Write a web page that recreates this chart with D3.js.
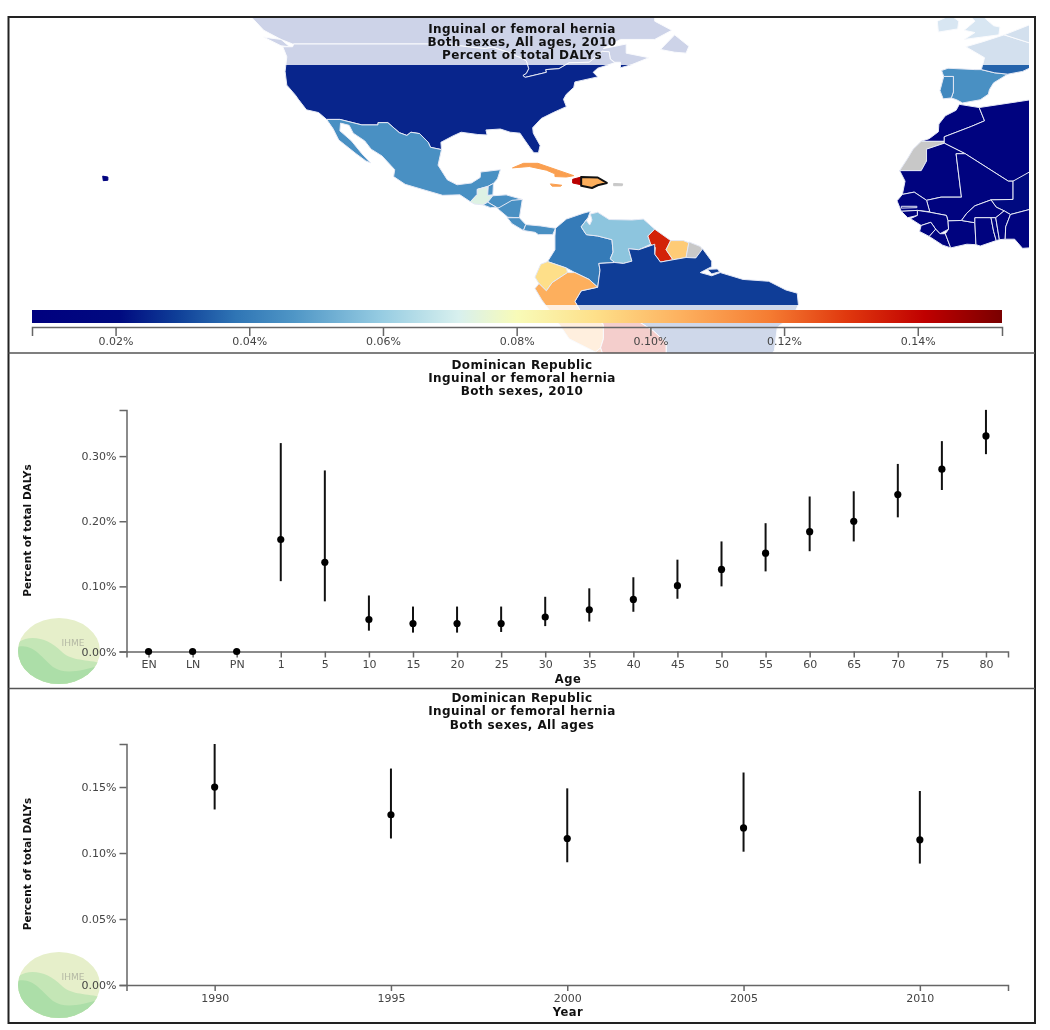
<!DOCTYPE html>
<html>
<head>
<meta charset="utf-8">
<script src="https://d3js.org/d3.v7.min.js"></script>
<style>
  html, body { margin: 0; padding: 0; background: #fff; }
  svg { display: block; filter: blur(0.45px); }
  text { font-family: "DejaVu Sans", sans-serif; }
  .title { font-size: 12px; font-weight: bold; text-anchor: middle; fill: #111; letter-spacing: 0.4px; }
  .axis text { font-size: 11px; fill: #444; font-family: "DejaVu Sans", sans-serif; }
  .axis path, .axis line { stroke: #666; stroke-width: 1.5; fill: none; }
  .label { font-size: 10.5px; font-weight: bold; text-anchor: middle; fill: #111; }
  .xlabel { font-size: 11.5px; letter-spacing: 0.5px; }
</style>
</head>
<body>
<script>
// age panel
var ageLabels = ["EN","LN","PN","1","5","10","15","20","25","30","35","40","45","50","55","60","65","70","75","80"];
var ageMean = [0,0,0,.172,.137,.049,.043,.043,.043,.053,.064,.08,.101,.126,.151,.184,.2,.241,.28,.331];
var ageLow  = [0,0,0,.108,.077,.032,.029,.029,.03,.039,.046,.061,.081,.1,.123,.154,.169,.206,.248,.303];
var ageHigh = [0,0,0,.32,.278,.086,.069,.069,.069,.084,.097,.114,.141,.169,.197,.238,.246,.288,.323,.371];
var ageTicks = [0,.1,.2,.3];

// year panel
var yearLabels = ["1990","1995","2000","2005","2010"];
var yearMean = [.15,.129,.111,.119,.11];
var yearLow  = [.133,.111,.093,.101,.092];
var yearHigh = [.1826,.164,.149,.161,.147];
var yearTicks = [0,.05,.1,.15];

// colour bar
var legendTicks = [.02,.04,.06,.08,.1,.12,.14];
var legendDomain = [.0075,.1526];
var rampStops = [0,.09,.15,.21,.27,.36,.44,.5,.58,.67,.76,.84,.92,1];
var rampColors = ["#00007f","#000a80","#0f3f98","#2f75b5","#4f96c6","#96cce2","#d8f0ee","#f8fbb8","#fee08a","#fdb05e","#f57c32","#e0380e","#c00000","#7a0000"];

// map: name, value (null = no data), outline in lon/lat
var countryNames = ["Canada","Vancouver Is","USA","Mexico","Guatemala","Belize","Honduras","El Salvador","Nicaragua","Costa Rica","Panama",
  "Colombia","Venezuela","Guyana","Suriname","French Guiana","Brazil","Marajo","Ecuador","Peru","Bolivia","Chile",
  "Cuba","Jamaica","Haiti","Puerto Rico","Hawaii","Newfoundland",
  "Spain","Portugal","France","Benelux","Ireland","UK",
  "Morocco","Western Sahara","Algeria","Mauritania","Mali","Niger","Senegal","Gambia","Guinea Bissau","Guinea","Sierra Leone","Liberia","Ivory Coast","Burkina Faso","Ghana","Togo","Benin","Nigeria",
  "Dominican Republic"];
var countryValues = [.025,.025,.025,.045,.073,.045,.045,.045,.045,.045,.045,
  .0395,.058,.134,.0975,null,.029,.029,.092,.105,.138,.12,
  .109,.109,.142,null,.012,.025,
  .045,.043,.035,.035,.042,.042,
  .012,null,.012,.012,.012,.02,.012,.012,.012,.012,.012,.012,.012,.012,.012,.012,.012,.012,
  .105];
var islandNames = ["Cuba","Jamaica","Haiti","Puerto Rico","Hawaii"];
var countryOutlines = [
  [[-123,49],[-125,50],[-128,52],[-130,54.7],[-131,58],[-60,58],[-60,54],[-57,52],[-60,50],[-66,50],[-69,48],[-65,49],[-65,47],[-61,46],[-64,44.5],[-66,43.8],[-66,45],[-67,45],[-67.8,45.7],[-68,47.3],[-69.2,47.4],[-70.3,46.2],[-71.5,45],[-75,44.9],[-76.8,43.6],[-79.1,43.4],[-79,42.8],[-82.7,41.7],[-83.1,42.1],[-82.5,42.6],[-82.1,43.6],[-82.5,45.3],[-83.5,46],[-84.5,46.5],[-84.9,46.9],[-88.4,48.3],[-89.6,48],[-92,48.3],[-94.6,48.7],[-95.2,49]],
  [[-128,50.5],[-125,48.6],[-123.5,48.4],[-125,50]],
  [[-124.7,48.4],[-123,48.4],[-122.8,49],[-95.2,49],[-94.6,48.7],[-92,48.3],[-89.6,48],[-88.4,48.3],[-84.9,46.9],[-84.5,46.5],[-83.5,46],[-82.5,45.3],[-82.1,43.6],[-82.5,42.6],[-83.1,42.1],[-82.7,41.7],[-79,42.8],[-79.1,43.4],[-76.8,43.6],[-75,44.9],[-71.5,45],[-70.3,46.2],[-69.2,47.4],[-68,47.3],[-67.8,45.7],[-67,44.9],[-70,43.7],[-70.8,42.8],[-70,41.8],[-74,40.7],[-74.2,39.5],[-75.5,38],[-76,36.9],[-75.5,35.3],[-77.8,34],[-79.9,32.7],[-81.4,30.7],[-81.3,29.5],[-80.1,26.8],[-80.4,25.2],[-81.2,25.2],[-81.8,26.2],[-82.8,28],[-83.6,29.5],[-85.3,29.7],[-87,30.4],[-89.5,30.2],[-89.3,29.1],[-90.9,29.2],[-93.8,29.7],[-95.2,28.9],[-97.3,27.5],[-97.2,25.9],[-99.1,26.4],[-99.5,27.5],[-101,29.4],[-102.5,29.7],[-103.2,29],[-104.5,29.6],[-106.5,31.8],[-108.2,31.8],[-108.2,31.3],[-111,31.3],[-114.8,32.5],[-117.1,32.5],[-118.5,34],[-120.6,34.6],[-122,36.9],[-122.5,37.8],[-124,40],[-124.3,43],[-124,46.2]],
  [[-117.1,32.5],[-114.8,32.5],[-111,31.3],[-108.2,31.3],[-108.2,31.8],[-106.5,31.8],[-104.5,29.6],[-103.2,29],[-102.5,29.7],[-101,29.4],[-99.5,27.5],[-99.1,26.4],[-97.2,25.9],[-97.8,22.5],[-96.2,19.3],[-94.5,18.2],[-92,18.6],[-90.5,19.8],[-90.4,21],[-87,21.5],[-87.5,19.5],[-88.2,18.5],[-89.1,17.9],[-91,17.2],[-91,16.1],[-92.2,14.5],[-94,16],[-97,15.9],[-100,17],[-103.5,18.3],[-105.5,20],[-105.3,21.5],[-107.5,24.5],[-109.4,26],[-110.5,27.8],[-112.5,29.5],[-113.2,31.2],[-114.7,31.7],[-114.8,30],[-112.8,27.8],[-111,25],[-109.5,23],[-110.3,23.4],[-112,25],[-114,27],[-115,28],[-116,30.5]],
  [[-92.2,14.5],[-91,16.1],[-91,17.2],[-89.2,17.8],[-89.2,15.9],[-88.3,15.8],[-89.2,14.5],[-90,13.8],[-91.5,14]],
  [[-89.1,17.9],[-88.2,18.5],[-88.3,16],[-89.2,15.9]],
  [[-89.2,14.4],[-88.3,15.8],[-86,16],[-83.2,15],[-84.7,14.7],[-87,13],[-87.6,13.2]],
  [[-90,13.8],[-89.2,14.4],[-87.7,13.3],[-88.7,13.2]],
  [[-87.5,13],[-85,14.8],[-83.2,15],[-83.7,11],[-85.7,11.1]],
  [[-85.8,11],[-83.7,11],[-82.6,9.5],[-83,8.2],[-85,9.7]],
  [[-83,8.2],[-82.6,9.5],[-80,9.2],[-77.4,8.7],[-77.9,7.3],[-80.4,7.3],[-81,7.8]],
  [[-77.4,8.7],[-75.5,10.7],[-72.5,12],[-71.3,12.4],[-71.7,11],[-72.9,9],[-72,7.3],[-70,7],[-67.5,6.2],[-67.3,3.5],[-67.8,2],[-67,1.2],[-69.8,1],[-69.6,-0.5],[-70,-4.2],[-71.5,-2.5],[-74,-1],[-75.5,0],[-78.8,1.4],[-77.5,4],[-77.5,7]],
  [[-71.7,11],[-72,10.4],[-71.4,9.4],[-71,10.5],[-71.3,11.8],[-70,12.2],[-68,10.6],[-64,10.5],[-62,10.7],[-60,8.5],[-61.2,7],[-60.7,5.2],[-62.8,4],[-64.6,4.2],[-64,1.5],[-65.5,1],[-67,1.2],[-67.8,2],[-67.3,3.5],[-67.5,6.2],[-70,7],[-72,7.3],[-72.9,9]],
  [[-60,8.5],[-57.2,6],[-58,4],[-56.8,1.8],[-59,1.3],[-60,3],[-59.9,4.5],[-60.7,5.2],[-61.2,7]],
  [[-57.2,6],[-55,6],[-54,5.5],[-54.5,2.3],[-56.8,1.8],[-58,4]],
  [[-54,5.7],[-52,4.7],[-51.6,4],[-52.8,2.2],[-54.5,2.3]],
  [[-51.6,4.2],[-50,1.5],[-50,0.3],[-52,-1],[-50,-1.7],[-48.5,-1],[-44.5,-2.5],[-40,-2.9],[-37,-4.8],[-35,-5.5],[-34.8,-8],[-35.5,-10],[-38.5,-13],[-39,-18],[-41,-22],[-48,-25],[-55,-25],[-58,-20],[-58,-16.3],[-60.3,-13.7],[-65,-10],[-70,-11],[-73,-9.5],[-74,-7.3],[-72.9,-5],[-70,-4.2],[-69.6,-0.5],[-69.8,1],[-67,1.2],[-65.5,1],[-64,1.5],[-64.6,4.2],[-62.8,4],[-60,5.2],[-60,3],[-59,1.3],[-56.8,1.8],[-54.5,2.3],[-52.8,2.2]],
  [[-50.8,-0.3],[-49,-0.2],[-48.6,-0.8],[-50,-1.3]],
  [[-80,0.8],[-78.8,1.4],[-75.5,0],[-75.3,-1],[-78,-3.2],[-79,-5],[-80.3,-3.4],[-81,-2]],
  [[-81,-4.5],[-80.3,-3.4],[-79,-5],[-78,-3.2],[-75.3,-1],[-74,-1],[-71.5,-2.5],[-70,-4.2],[-72.9,-5],[-74,-7.3],[-73,-9.5],[-70,-11],[-69,-12.5],[-69,-15.5],[-69.5,-17.5],[-70.4,-18.4],[-75,-15.5],[-78,-10],[-79.8,-7]],
  [[-69.5,-10.9],[-65,-10],[-60.3,-13.7],[-58,-16.3],[-58,-20],[-62,-22],[-68,-23],[-69.5,-17.5],[-69,-15.5],[-69,-12.5]],
  [[-70.4,-18.4],[-69.5,-17.5],[-68,-23],[-70,-25]],
  [[-84.9,21.9],[-83,22.9],[-80.5,22.9],[-77,21.4],[-74.2,20.2],[-75.5,19.9],[-77.5,20],[-77.5,20.6],[-79,21.4],[-82,22.2]],
  [[-78.3,18.4],[-76.3,18.1],[-76.5,17.9],[-78,17.9]],
  [[-74.4,19.4],[-72.9,19.9],[-72.9,18.2],[-74.4,18.6]],
  [[-67.2,18.5],[-65.6,18.4],[-65.7,18],[-67.2,18]],
  [[-155.9,20.1],[-155,19.9],[-155,19.2],[-155.8,19.1]],
  [[-59,47.8],[-56.5,51],[-54,48.5],[-54.5,47],[-56.5,47.2]],
  [[-9.2,43.2],[-8,43.7],[-3,43.4],[-1.8,43.4],[0.7,42.7],[3.2,42.4],[0.5,40.5],[-0.3,39],[-0.5,38],[-2,36.8],[-5.3,36.1],[-6.4,36.8],[-7.4,37.2],[-7,38.5],[-7,41.9],[-8.8,41.9]],
  [[-8.8,41.9],[-7,41.9],[-7,38.5],[-7.4,37.2],[-8.9,37],[-9.5,38.8]],
  [[-1.8,43.4],[0.7,42.7],[3.2,42.4],[6,43],[7.5,43.8],[8,49],[2.5,51],[-1.5,49.5],[-4.7,48.4],[-1.2,46]],
  [[2.5,51],[8,53.5],[8,49]],
  [[-10,54],[-7.5,55.3],[-6,54],[-6.2,52.3],[-9.8,51.6]],
  [[-6,58],[-3,58.5],[-2,56],[-1,54.5],[0.5,53],[1.7,52.7],[1.5,51],[-5,50],[-3,51.5],[-5,52],[-3,54]],
  [[-5.9,35.8],[-2.2,35.1],[-1.2,32.2],[-3.6,31],[-8.7,28.7],[-8.7,27.7],[-13,27.7],[-11.5,28.3],[-9.8,29.8],[-9.7,31.5],[-8.5,33.3],[-6.5,34.5]],
  [[-13,27.7],[-8.7,27.7],[-8.7,27.3],[-12,26],[-12,23.4],[-13,21.3],[-17,21.3],[-15.5,24],[-14.5,26]],
  [[-2.2,35.1],[8.7,37],[8.7,28],[12,24],[9,20],[4.2,19],[3.3,19],[-4.8,25],[-8.7,27.3],[-8.7,28.7],[-3.6,31],[-1.2,32.2]],
  [[-17,21.3],[-13,21.3],[-12,23.4],[-12,26],[-8.7,27.3],[-4.8,25],[-6.5,25],[-5.5,15.5],[-9.3,15.5],[-12,14.8],[-14.3,16.6],[-16.5,16.1],[-16,19]],
  [[-6.5,25],[-4.8,25],[3.3,19],[4.2,19],[4.2,15],[0,14.9],[-3,13.6],[-4.5,12],[-5.5,10.4],[-8,10.3],[-8.3,11.5],[-11.4,12.2],[-12,14.8],[-9.3,15.5],[-5.5,15.5]],
  [[4.2,19],[12,24],[14,22],[14,13],[8,13],[3.7,11.7],[2.5,12.5],[1,13.3],[0,14.9],[4.2,15]],
  [[-16.5,16.1],[-14.3,16.6],[-12,14.8],[-11.4,12.3],[-13.7,12.6],[-16.7,12.4],[-17.5,14.7]],
  [[-16.7,13.5],[-13.8,13.5],[-13.8,13.2],[-16.7,13.1]],
  [[-16.7,12.4],[-13.7,12.6],[-13.7,11.5],[-15.5,11]],
  [[-13.7,12.6],[-11.4,12.2],[-8.3,11.5],[-8,10.3],[-7.9,8.5],[-9.5,7.5],[-10.3,8.5],[-11.2,10],[-13,9.3],[-15,10.8],[-13.7,11.5]],
  [[-13,9.3],[-11.2,10],[-10.3,8.5],[-11.5,6.9],[-13.3,8]],
  [[-11.5,6.9],[-10.3,8.5],[-9.5,7.5],[-8.5,7.5],[-7.5,4.4],[-9,5]],
  [[-8.5,7.5],[-7.9,8.5],[-8,10.3],[-5.5,10.4],[-3,9.9],[-2.8,5.1],[-4.5,5.2],[-7.5,4.4]],
  [[-5.5,10.4],[-4.5,12],[-3,13.6],[0,14.9],[1,13.3],[2.5,12.5],[0.9,11],[0,11],[-3,11],[-3,9.9]],
  [[-3,11],[0,11],[0.5,8],[1,6],[-2,4.8],[-2.8,5.1],[-3,9.9]],
  [[0,11],[0.9,11],[1.6,6.2],[1,6],[0.5,8]],
  [[0.9,11],[2.5,12.5],[3.7,11.7],[2.8,9],[2.7,6.3],[1.6,6.2]],
  [[2.7,6.3],[2.8,9],[3.7,11.7],[8,13],[14,13],[12,8],[8.5,4.5],[6,4.3],[4.5,6.3]],
  [[-72.9,19.9],[-70,19.8],[-68.4,18.6],[-70,18.1],[-71,17.5],[-72.9,18]]
];
var selectedCountry = "Dominican Republic";

var width = 1050, height = 1030;
var svg = d3.select("body").append("svg").attr("width", width).attr("height", height);

var frame = {left: 8.5, right: 1035, top: 17, bottom: 1023, split1: 353, split2: 688.5};

// --- map ---
var lonScale = d3.scaleLinear().domain([-155.5,-81,-17.5,0,8]).range([105,535,897,991,1033]);
var latScale = d3.scaleLinear().domain([0,49]).range([268,44]);
var legendX = d3.scaleLinear().domain(legendDomain).range([32,1002]);
var color = d3.scaleLinear()
  .domain(rampStops.map(function (d) { return legendDomain[0] + d * (legendDomain[1] - legendDomain[0]); }))
  .range(rampColors);
var pctFormat = function (d) { return d3.format(".2f")(d) + "%"; };

var defs = svg.append("defs");
defs.append("clipPath").attr("id", "mapClip").append("rect")
  .attr("x", 10).attr("y", 18).attr("width", 1019).attr("height", 335);

var outline = d3.line()
  .x(function (d) { return lonScale(d[0]); })
  .y(function (d) { return latScale(d[1]); })
  .curve(d3.curveLinearClosed);

function fillOf(i) { return countryValues[i] === null ? "#c8c8c8" : color(countryValues[i]); }

var map = svg.append("g").attr("clip-path", "url(#mapClip)");
map.selectAll("path.country")
  .data(countryNames)
  .enter().append("path")
    .attr("class", "country")
    .attr("d", function (d, i) { return outline(countryOutlines[i]); })
    .attr("fill", function (d, i) { return fillOf(i); })
    .attr("stroke", function (d, i) {
      if (d === selectedCountry) return "#111";
      return islandNames.indexOf(d) >= 0 ? fillOf(i) : "#e4e8f4";
    })
    .attr("stroke-width", function (d) { return d === selectedCountry ? 2 : 1; })
    .attr("stroke-linejoin", "round");

// washed out bands behind the title and the legend
map.append("rect").attr("x", 10).attr("y", 18).attr("width", 1019).attr("height", 47)
  .attr("fill", "#fff").attr("opacity", 0.8);
map.append("rect").attr("x", 10).attr("y", 305).attr("width", 1019).attr("height", 48)
  .attr("fill", "#fff").attr("opacity", 0.8);

// colour bar
var grad = defs.append("linearGradient").attr("id", "ramp");
grad.selectAll("stop").data(rampStops).enter().append("stop")
  .attr("offset", function (d) { return d * 100 + "%"; })
  .attr("stop-color", function (d, i) { return rampColors[i]; });
svg.append("rect").attr("x", 32).attr("y", 310).attr("width", 970).attr("height", 13).attr("fill", "url(#ramp)");

var legendAxis = svg.append("g").attr("class", "axis").attr("transform", "translate(0,327)")
  .call(d3.axisBottom(legendX).tickValues(legendTicks).tickSize(9).tickSizeOuter(9).tickFormat(pctFormat));
legendAxis.selectAll("text").attr("y", 10);

function titleBlock(lines, ys) {
  svg.selectAll(null).data(lines).enter().append("text")
    .attr("class", "title")
    .attr("x", 522)
    .attr("y", function (d, i) { return ys[i]; })
    .text(function (d) { return d; });
}
titleBlock(["Inguinal or femoral hernia", "Both sexes, All ages, 2010", "Percent of total DALYs"], [33, 46, 59]);

// --- IHME logo ---
function logo(cy, id) {
  var g = svg.append("g").attr("transform", "translate(59," + cy + ")");
  defs.append("clipPath").attr("id", id).append("ellipse").attr("rx", 41).attr("ry", 33);
  g.append("ellipse").attr("rx", 41).attr("ry", 33).attr("fill", "#e6efca");
  var c = g.append("g").attr("clip-path", "url(#" + id + ")");
  c.append("path").attr("d", "M-42,-8 C-28,-18 -10,-12 2,0 C12,10 24,8 42,12 L42,36 L-42,36 Z").attr("fill", "#c4e6b6");
  c.append("path").attr("d", "M-42,-4 C-26,-8 -18,6 -6,16 C6,24 22,20 42,14 L42,36 L-42,36 Z").attr("fill", "#acdea8");
  g.append("text").attr("x", 14).attr("y", -5).attr("text-anchor", "middle")
    .attr("font-size", 9).attr("fill", "#b4b8a4").text("IHME");
}

// --- error bar panels ---
function errorPanel(opt) {
  logo(opt.logoY, opt.logoId);
  var x = d3.scalePoint().domain(opt.labels).range([126.5, 1008]).padding(0.5);
  var y = d3.scaleLinear().domain([0, opt.top]).range([opt.y0, opt.y1]);

  svg.append("g").attr("class", "axis").attr("transform", "translate(126.5,0)")
    .call(d3.axisLeft(y).tickValues(opt.ticks).tickSize(7).tickSizeOuter(7).tickFormat(pctFormat));
  svg.append("g").attr("class", "axis").attr("transform", "translate(0," + opt.y0 + ")")
    .call(d3.axisBottom(x).tickSize(6).tickSizeOuter(6));

  svg.selectAll(null).data(opt.labels).enter().append("line")
    .attr("x1", function (d) { return x(d); })
    .attr("x2", function (d) { return x(d); })
    .attr("y1", function (d, i) { return y(opt.low[i]); })
    .attr("y2", function (d, i) { return y(opt.high[i]); })
    .attr("stroke", "#111").attr("stroke-width", 2);
  svg.selectAll(null).data(opt.labels).enter().append("circle")
    .attr("cx", function (d) { return x(d); })
    .attr("cy", function (d, i) { return y(opt.mean[i]); })
    .attr("r", 3.6).attr("fill", "#000");

  svg.append("text").attr("class", "label xlabel").attr("x", 568).attr("y", opt.y0 + 31).text(opt.xTitle);
  svg.append("text").attr("class", "label")
    .attr("transform", "translate(31," + (opt.y0 - 121) + ") rotate(-90)")
    .text("Percent of total DALYs");
  titleBlock(opt.title, opt.titleY);
}

errorPanel({
  labels: ageLabels, mean: ageMean, low: ageLow, high: ageHigh, ticks: ageTicks,
  top: .3708, y0: 651.5, y1: 410, xTitle: "Age", logoY: 651, logoId: "logoA",
  title: ["Dominican Republic", "Inguinal or femoral hernia", "Both sexes, 2010"], titleY: [369, 382, 395]
});
errorPanel({
  labels: yearLabels, mean: yearMean, low: yearLow, high: yearHigh, ticks: yearTicks,
  top: .1826, y0: 985, y1: 744, xTitle: "Year", logoY: 985, logoId: "logoB",
  title: ["Dominican Republic", "Inguinal or femoral hernia", "Both sexes, All ages"], titleY: [702, 715, 729]
});

// --- frame ---
svg.append("rect").attr("x", frame.left).attr("y", frame.top)
  .attr("width", frame.right - frame.left).attr("height", frame.bottom - frame.top)
  .attr("fill", "none").attr("stroke", "#222").attr("stroke-width", 2);
svg.selectAll(null).data([frame.split1, frame.split2]).enter().append("line")
  .attr("x1", frame.left).attr("x2", frame.right)
  .attr("y1", function (d) { return d; }).attr("y2", function (d) { return d; })
  .attr("stroke", "#555").attr("stroke-width", 1.5);
</script>
</body>
</html>
